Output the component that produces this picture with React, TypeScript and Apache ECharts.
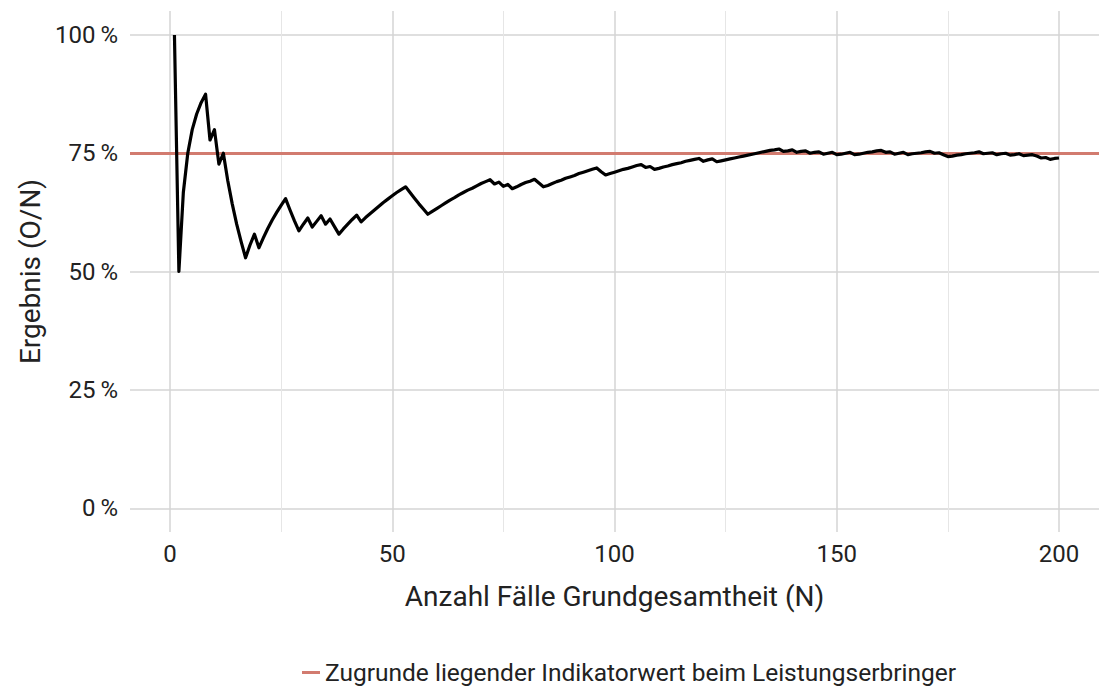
import React, { useEffect, useRef } from "react";
import * as echarts from "echarts";

// Cumulative result O/N in percent for N = 1 .. 200
const ratioPercent: number[] = [
  100, 50, 66.7, 75, 80, 83.3, 85.7, 87.5, 77.8, 80,
  72.7, 75, 69.2, 64.3, 60, 56.3, 52.9, 55.6, 57.9, 55,
  57.1, 59.1, 60.9, 62.5, 64, 65.4, 63, 60.7, 58.6, 60,
  61.3, 59.4, 60.6, 61.8, 60, 61.1, 59.5, 57.9, 59, 60,
  61, 61.9, 60.5, 61.4, 62.2, 63, 63.8, 64.6, 65.3, 66,
  66.7, 67.3, 67.9, 66.7, 65.5, 64.3, 63.2, 62.1, 62.7, 63.3,
  63.9, 64.5, 65.1, 65.6, 66.2, 66.7, 67.2, 67.6, 68.1, 68.6,
  69, 69.4, 68.5, 68.9, 68, 68.4, 67.5, 67.9, 68.4, 68.8,
  69.1, 69.5, 68.7, 67.9, 68.2, 68.6, 69, 69.3, 69.7, 70,
  70.3, 70.7, 71, 71.3, 71.6, 71.9, 71.1, 70.4, 70.7, 71,
  71.3, 71.6, 71.8, 72.1, 72.4, 72.6, 72, 72.2, 71.6, 71.8,
  72.1, 72.3, 72.6, 72.8, 73, 73.3, 73.5, 73.7, 73.9, 73.3,
  73.6, 73.8, 73.2, 73.4, 73.6, 73.8, 74, 74.2, 74.4, 74.6,
  74.8, 75, 75.2, 75.4, 75.6, 75.7, 75.9, 75.4, 75.5, 75.7,
  75.2, 75.4, 75.5, 75, 75.2, 75.3, 74.8, 75, 75.2, 74.7,
  74.8, 75, 75.2, 74.7, 74.8, 75, 75.2, 75.3, 75.5, 75.6,
  75.2, 75.3, 74.8, 75, 75.2, 74.7, 74.9, 75, 75.1, 75.3,
  75.4, 75, 75.1, 74.7, 74.3, 74.4, 74.6, 74.7, 74.9, 75,
  75.1, 75.3, 74.9, 75, 75.1, 74.7, 74.9, 75, 74.6, 74.7,
  74.9, 74.5, 74.6, 74.7, 74.4, 74, 74.1, 73.7, 73.9, 74,
];

const indicatorValue = 75;
const xMajorGrid = [0, 50, 100, 150, 200];
const xMinorGrid = [25, 75, 125, 175];
const yGrid = [0, 25, 50, 75, 100];

const legendName = "Zugrunde liegender Indikatorwert beim Leistungserbringer";
const xTitle = "Anzahl Fälle Grundgesamtheit (N)";
const yTitle = "Ergebnis (O/N)";

const FONT = "Roboto, 'Noto Sans', sans-serif";
const TEXT = "#222222";
const RED = "#d27b6f";
const MAJOR = "#d4d4d4";
const MINOR = "#e6e6e6";

export default function App() {
  const ref = useRef<HTMLDivElement>(null);

  useEffect(() => {
    if (!ref.current) return;
    const chart = echarts.init(ref.current, null, { renderer: "svg" });

    const gridLines = [
      ...yGrid.map((v) => ({ yAxis: v, lineStyle: { color: MAJOR, width: 1.5, type: "solid" } })),
      ...xMinorGrid.map((v) => ({ xAxis: v, lineStyle: { color: MINOR, width: 1, type: "solid" } })),
      ...xMajorGrid.map((v) => ({ xAxis: v, lineStyle: { color: MAJOR, width: 1.5, type: "solid" } })),
    ];

    chart.setOption({
      animation: false,
      backgroundColor: "#ffffff",
      grid: [
        { left: 130, right: 0, top: 11, height: 521 },
        { left: 170, width: 889, top: 35, height: 473 },
      ],
      xAxis: [
        { type: "value", gridIndex: 0, min: -9, max: 209, show: false },
        {
          type: "value",
          gridIndex: 1,
          min: 0,
          max: 200,
          interval: 50,
          axisLine: { show: false },
          axisTick: { show: false },
          splitLine: { show: false },
          axisLabel: { margin: 34, fontSize: 24, color: TEXT, fontFamily: FONT },
          name: xTitle,
          nameLocation: "middle",
          nameGap: 74,
          nameTextStyle: { fontSize: 28, color: TEXT, fontFamily: FONT },
        },
      ],
      yAxis: [
        { type: "value", gridIndex: 0, min: -5, max: 105, show: false },
        {
          type: "value",
          gridIndex: 1,
          min: 0,
          max: 100,
          interval: 25,
          axisLine: { show: false },
          axisTick: { show: false },
          splitLine: { show: false },
          axisLabel: {
            margin: 52,
            fontSize: 24,
            color: TEXT,
            fontFamily: FONT,
            formatter: (v: number) => `${v}\u2009%`,
          },
          name: yTitle,
          nameLocation: "middle",
          nameGap: 126,
          nameRotate: 90,
          nameTextStyle: { fontSize: 28, color: TEXT, fontFamily: FONT },
        },
      ],
      legend: {
        data: [legendName],
        left: 297,
        top: 655,
        icon: "rect",
        itemWidth: 18,
        itemHeight: 3,
        itemGap: 5,
        textStyle: { fontSize: 24.5, color: TEXT, fontFamily: FONT },
      },
      series: [
        {
          type: "line",
          name: "grid",
          xAxisIndex: 0,
          yAxisIndex: 0,
          data: [],
          silent: true,
          z: 1,
          markLine: {
            silent: true,
            symbol: ["none", "none"],
            label: { show: false },
            data: gridLines,
          },
        },
        {
          type: "line",
          name: legendName,
          xAxisIndex: 0,
          yAxisIndex: 0,
          data: [],
          color: RED,
          itemStyle: { color: RED },
          lineStyle: { color: RED, width: 3 },
          z: 3,
          markLine: {
            silent: true,
            symbol: ["none", "none"],
            label: { show: false },
            lineStyle: { color: RED, width: 3, type: "solid" },
            data: [{ yAxis: indicatorValue }],
          },
        },
        {
          type: "line",
          name: "Ergebnis",
          xAxisIndex: 1,
          yAxisIndex: 1,
          data: ratioPercent.map((v, i) => [i + 1, v]),
          showSymbol: false,
          symbol: "none",
          lineStyle: { color: "#000000", width: 3.2, join: "round" },
          itemStyle: { color: "#000000" },
          z: 5,
        },
      ],
    });

    return () => chart.dispose();
  }, []);

  return <div ref={ref} style={{ width: 1099, height: 689, position: "absolute", left: 0, top: 0 }} />;
}
